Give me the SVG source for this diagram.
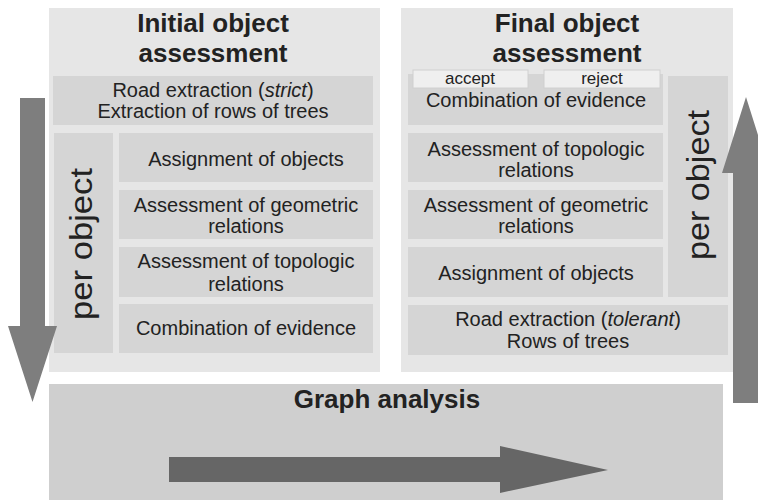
<svg xmlns="http://www.w3.org/2000/svg" width="758" height="500" viewBox="0 0 758 500">
<style>
.panel{fill:#e6e6e6}
.box{fill:#d5d5d5}
.tag{fill:#efefef;stroke:#d0d0d0;stroke-width:1}
.graph{fill:#cfcfcf}
.arrow{fill:#7e7e7e}
.arrowdark{fill:#666666}
text{font-family:"Liberation Sans",Arial,sans-serif;fill:#222;text-anchor:middle}
.t{font-size:20px}
.h{font-size:26px;font-weight:bold}
.s{font-size:17px}
.po{font-size:32px}
</style>
<rect width="758" height="500" fill="#ffffff"/>
<g id="graph-analysis">
<rect class="graph" x="49" y="384" width="674" height="116"/>
<text class="h" x="387" y="408">Graph analysis</text>
</g>
<g id="initial-panel">
<rect class="panel" x="49" y="8" width="331" height="364"/>
<text class="h" x="213" y="32">Initial object</text>
<text class="h" x="213" y="62">assessment</text>
</g>
<g id="final-panel">
<rect class="panel" x="401" y="8" width="332" height="364"/>
<text class="h" x="567" y="32">Final object</text>
<text class="h" x="567" y="62">assessment</text>
</g>
<g id="i-road">
<rect class="box" x="53" y="76" width="320" height="49"/>
<text class="t" x="213" y="97">Road extraction (<tspan font-style="italic">strict</tspan>)</text>
<text class="t" x="213" y="118">Extraction of rows of trees</text>
</g>
<g id="i-perobject">
<rect class="box" x="54" y="133" width="59" height="220"/>
<text class="po" transform="translate(92,244) rotate(-90)" x="0" y="0" textLength="152" lengthAdjust="spacingAndGlyphs">per object</text>
</g>
<g id="i-assign">
<rect class="box" x="119" y="133" width="254" height="49"/>
<text class="t" x="246" y="166">Assignment of objects</text>
</g>
<g id="i-geom">
<rect class="box" x="119" y="190" width="254" height="49"/>
<text class="t" x="246" y="212">Assessment of geometric</text>
<text class="t" x="246" y="233">relations</text>
</g>
<g id="i-topo">
<rect class="box" x="119" y="247" width="254" height="50"/>
<text class="t" x="246" y="268">Assessment of topologic</text>
<text class="t" x="246" y="291">relations</text>
</g>
<g id="i-comb">
<rect class="box" x="119" y="304" width="254" height="49"/>
<text class="t" x="246" y="335">Combination of evidence</text>
</g>
<g id="f-comb">
<rect class="box" x="408" y="74" width="255" height="51"/>
<text class="t" x="536" y="107">Combination of evidence</text>
</g>
<g id="f-accept">
<rect class="tag" x="413" y="70" width="115" height="18"/>
<text class="s" x="470" y="84">accept</text>
</g>
<g id="f-reject">
<rect class="tag" x="544" y="70" width="116" height="18"/>
<text class="s" x="602" y="84">reject</text>
</g>
<g id="f-perobject">
<rect class="box" x="668" y="76" width="60" height="221"/>
<text class="po" transform="translate(709,185) rotate(-90)" x="0" y="0" textLength="150" lengthAdjust="spacingAndGlyphs">per object</text>
</g>
<g id="f-topo">
<rect class="box" x="408" y="133" width="255" height="49"/>
<text class="t" x="536" y="156">Assessment of topologic</text>
<text class="t" x="536" y="177">relations</text>
</g>
<g id="f-geom">
<rect class="box" x="408" y="190" width="255" height="49"/>
<text class="t" x="536" y="212">Assessment of geometric</text>
<text class="t" x="536" y="233">relations</text>
</g>
<g id="f-assign">
<rect class="box" x="408" y="247" width="255" height="50"/>
<text class="t" x="536" y="280">Assignment of objects</text>
</g>
<g id="f-road">
<rect class="box" x="408" y="305" width="320" height="50"/>
<text class="t" x="568" y="326">Road extraction (<tspan font-style="italic">tolerant</tspan>)</text>
<text class="t" x="568" y="348">Rows of trees</text>
</g>
<g id="connectors">
<polygon class="arrow" points="20,98 45,98 45,326 57,326 32.5,402 8,326 20,326"/>
<polygon class="arrow" points="733,403 758,403 758,173 770,173 746,97 722,173 733,173"/>
<polygon class="arrowdark" points="169,457 500,457 500,446 608,470 500,493 500,482 169,482"/>
</g>
</svg>
